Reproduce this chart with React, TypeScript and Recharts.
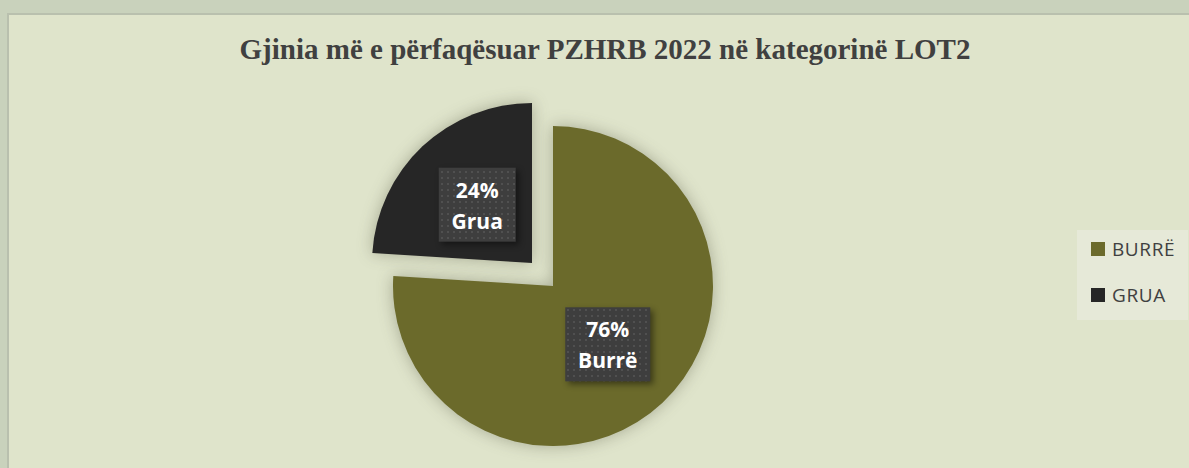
import React from "react";
import { PieChart, Pie, Cell, Legend } from "recharts";

const categories = ["Burrë", "Grua"];
const legendLabels = ["BURRË", "GRUA"];
const values = [76, 24];
const colors = ["#6b6a2b", "#262626"];
const title = "Gjinia më e përfaqësuar PZHRB 2022 në kategorinë LOT2";

const data = categories.map((c, i) => ({ name: c, legend: legendLabels[i], value: values[i] }));

const RAD = Math.PI / 180;

const makeLabel = (only: number) => (props: any) => {
  const { cx, cy, midAngle, outerRadius, index, percent } = props;
  if (index !== only) return null;
  const r = outerRadius * 0.5;
  const x = cx + r * Math.cos(-midAngle * RAD);
  const y = cy + r * Math.sin(-midAngle * RAD);
  const w = index === 0 ? 85 : 77;
  const h = 74;
  return (
    <g>
      <rect x={x - w / 2} y={y - h / 2} width={w} height={h} fill="#3e3e3e" style={{ filter: "drop-shadow(3px 3px 3px rgba(0,0,0,0.45))" }} />
      <rect x={x - w / 2} y={y - h / 2} width={w} height={h} fill="url(#dots)" />
      <text x={x} y={y - 15} textAnchor="middle" dominantBaseline="central" fill="#ffffff" fontFamily="'Open Sans', sans-serif" fontWeight={700} fontSize={21}>
        {`${Math.round(percent * 100)}%`}
      </text>
      <text x={x} y={y + 16} textAnchor="middle" dominantBaseline="central" fill="#ffffff" fontFamily="'Open Sans', sans-serif" fontWeight={700} fontSize={21}>
        {props.name}
      </text>
    </g>
  );
};

const LegendContent = () => (
  <div style={{ background: "#e6e9d8", width: 111, height: 90, position: "relative" }}>
    {data.map((d, i) => (
      <div key={d.legend} style={{ position: "absolute", left: 14, top: 4 + i * 46, height: 30, display: "flex", alignItems: "center" }}>
        <div style={{ width: 14, height: 14, background: colors[i], marginRight: 7 }} />
        <span style={{ fontFamily: "'Open Sans', sans-serif", fontSize: 19, color: "#404040", letterSpacing: 0.6, lineHeight: "30px" }}>{d.legend}</span>
      </div>
    ))}
  </div>
);

export default function App() {
  return (
    <div style={{ position: "absolute", left: 0, top: 0, width: 1189, height: 468, background: "#c9d2bc", overflow: "hidden" }}>
      <style>{`body{margin:0}`}</style>
      <div style={{ position: "absolute", left: 7, top: 13, width: 1190, height: 470, background: "#dfe4cb", border: "2px solid #b9c0ae", boxSizing: "border-box" }} />
      <div style={{ position: "absolute", left: 7, top: 34, width: 1196, textAlign: "center", fontFamily: "'Liberation Serif', 'Times New Roman', serif", fontWeight: 700, fontSize: 29, color: "#404040", lineHeight: "30px", whiteSpace: "nowrap" }}>
        {title}
      </div>
      <div style={{ position: "absolute", left: 7, top: 13 }}>
        <PieChart width={1182} height={455} margin={{ top: 0, right: 0, bottom: 0, left: 0 }}>
          <defs>
            <pattern id="dots" width="6" height="6" patternUnits="userSpaceOnUse">
              <circle cx="3" cy="3" r="1" fill="#555555" />
            </pattern>
          </defs>
          <Pie
            data={data}
            dataKey="value"
            nameKey="name"
            cx={546}
            cy={273}
            outerRadius={160}
            startAngle={90}
            endAngle={-270}
            stroke="none"
            isAnimationActive={false}
            labelLine={false}
            label={makeLabel(0)}
            legendType="none"
          >
            {data.map((d, i) => (
              <Cell key={d.name} fill={i === 0 ? colors[0] : "none"} style={i === 0 ? { filter: "drop-shadow(0px 0px 8px rgba(60,60,40,0.35))" } : undefined} />
            ))}
          </Pie>
          <Pie
            data={data}
            dataKey="value"
            nameKey="name"
            cx={525}
            cy={250}
            outerRadius={160}
            startAngle={90}
            endAngle={-270}
            stroke="none"
            isAnimationActive={false}
            labelLine={false}
            label={makeLabel(1)}
            legendType="none"
          >
            {data.map((d, i) => (
              <Cell key={d.name} fill={i === 1 ? colors[1] : "none"} style={i === 1 ? { filter: "drop-shadow(0px 0px 8px rgba(60,60,40,0.35))" } : undefined} />
            ))}
          </Pie>
          <Legend layout="vertical" align="right" verticalAlign="top" wrapperStyle={{ left: 1070, top: 217, width: 112 }} content={<LegendContent />} />
        </PieChart>
      </div>
    </div>
  );
}
